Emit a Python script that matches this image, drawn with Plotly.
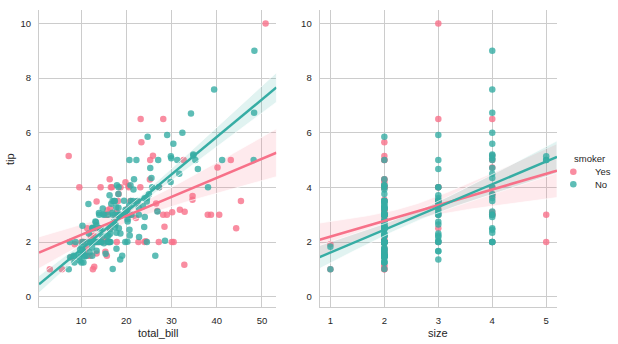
import numpy as np
import plotly.graph_objects as go

# Restaurant tips: bill, tip, smoker flag and party size
total_bill = [16.99, 10.34, 21.01, 23.68, 24.59, 25.29, 8.77, 26.88, 15.04, 14.78, 10.27, 35.26, 15.42, 18.43, 14.83, 21.58, 10.33, 16.29, 16.97, 20.65,
              17.92, 20.29, 15.77, 39.42, 19.82, 17.81, 13.37, 12.69, 21.7, 19.65, 9.55, 18.35, 15.06, 20.69, 17.78, 24.06, 16.31, 16.93, 18.69, 31.27,
              16.04, 17.46, 13.94, 9.68, 30.4, 18.29, 22.23, 32.4, 28.55, 18.04, 12.54, 10.29, 34.81, 9.94, 25.56, 19.49, 38.01, 26.41, 11.24, 48.27,
              20.29, 13.81, 11.02, 18.29, 17.59, 20.08, 16.45, 3.07, 20.23, 15.01, 12.02, 17.07, 26.86, 25.28, 14.73, 10.51, 17.92, 27.2, 22.76, 17.29,
              19.44, 16.66, 10.07, 32.68, 15.98, 34.83, 13.03, 18.28, 24.71, 21.16, 28.97, 22.49, 5.75, 16.32, 22.75, 40.17, 27.28, 12.03, 21.01, 12.46,
              11.35, 15.38, 44.3, 22.42, 20.92, 15.36, 20.49, 25.21, 18.24, 14.31, 14.0, 7.25, 38.07, 23.95, 25.71, 17.31, 29.93, 10.65, 12.43, 24.08,
              11.69, 13.42, 14.26, 15.95, 12.48, 29.8, 8.52, 14.52, 11.38, 22.82, 19.08, 20.27, 11.17, 12.26, 18.26, 8.51, 10.33, 14.15, 16.0, 13.16,
              17.47, 34.3, 41.19, 27.05, 16.43, 8.35, 18.64, 11.87, 9.78, 7.51, 14.07, 13.13, 17.26, 24.55, 19.77, 29.85, 48.17, 25.0, 13.39, 16.49,
              21.5, 12.66, 16.21, 13.81, 17.51, 24.52, 20.76, 31.71, 10.59, 10.63, 50.81, 15.81, 7.25, 31.85, 16.82, 32.9, 17.89, 14.48, 9.6, 34.63,
              34.65, 23.33, 45.35, 23.17, 40.55, 20.69, 20.9, 30.46, 18.15, 23.1, 15.69, 19.81, 28.44, 15.48, 16.58, 7.56, 10.34, 43.11, 13.0, 13.51,
              18.71, 12.74, 13.0, 16.4, 20.53, 16.47, 26.59, 38.73, 24.27, 12.76, 30.06, 25.89, 48.33, 13.27, 28.17, 12.9, 28.15, 11.59, 7.74, 30.14,
              12.16, 13.42, 8.58, 15.98, 13.42, 16.27, 10.09, 20.45, 13.28, 22.12, 24.01, 15.69, 11.61, 10.77, 15.53, 10.07, 12.6, 32.83, 35.83, 29.03,
              27.18, 22.67, 17.82, 18.78]
tip = [1.01, 1.66, 3.5, 3.31, 3.61, 4.71, 2.0, 3.12, 1.96, 3.23, 1.71, 5.0, 1.57, 3.0, 3.02, 3.92, 1.67, 3.71, 3.5, 3.35,
       4.08, 2.75, 2.23, 7.58, 3.18, 2.34, 2.0, 2.0, 4.3, 3.0, 1.45, 2.5, 3.0, 2.45, 3.27, 3.6, 2.0, 3.07, 2.31, 5.0,
       2.24, 2.54, 3.06, 1.32, 5.6, 3.0, 5.0, 6.0, 2.05, 3.0, 2.5, 2.6, 5.2, 1.56, 4.34, 3.51, 3.0, 1.5, 1.76, 6.73,
       3.21, 2.0, 1.98, 3.76, 2.64, 3.15, 2.47, 1.0, 2.01, 2.09, 1.97, 3.0, 3.14, 5.0, 2.2, 1.25, 3.08, 4.0, 3.0, 2.71,
       3.0, 3.4, 1.83, 5.0, 2.03, 5.17, 2.0, 4.0, 5.85, 3.0, 3.0, 3.5, 1.0, 4.3, 3.25, 4.73, 4.0, 1.5, 3.0, 1.5,
       2.5, 3.0, 2.5, 3.48, 4.08, 1.64, 4.06, 4.29, 3.76, 4.0, 3.0, 1.0, 4.0, 2.55, 4.0, 3.5, 5.07, 1.5, 1.8, 2.92,
       2.31, 1.68, 2.5, 2.0, 2.52, 4.2, 1.48, 2.0, 2.0, 2.18, 1.5, 2.83, 1.5, 2.0, 3.25, 1.25, 2.0, 2.0, 2.0, 2.75,
       3.5, 6.7, 5.0, 5.0, 2.3, 1.5, 1.36, 1.63, 1.73, 2.0, 2.5, 2.0, 2.74, 2.0, 2.0, 5.14, 5.0, 3.75, 2.61, 2.0,
       3.5, 2.5, 2.0, 2.0, 3.0, 3.48, 2.24, 4.5, 1.61, 2.0, 10.0, 3.16, 5.15, 3.18, 4.0, 3.11, 2.0, 2.0, 4.0, 3.55,
       3.68, 5.65, 3.5, 6.5, 3.0, 5.0, 3.5, 2.0, 3.5, 4.0, 1.5, 4.19, 2.56, 2.02, 4.0, 1.44, 2.0, 5.0, 2.0, 2.0,
       4.0, 2.01, 2.0, 2.5, 4.0, 3.23, 3.41, 3.0, 2.03, 2.23, 2.0, 5.16, 9.0, 2.5, 6.5, 1.1, 3.0, 1.5, 1.44, 3.09,
       2.2, 3.48, 1.92, 3.0, 1.58, 2.5, 2.0, 3.0, 2.72, 2.88, 2.0, 3.0, 3.39, 1.47, 3.0, 1.25, 1.0, 1.17, 4.67, 5.92,
       2.0, 2.0, 1.75, 3.0]
smoker = ["No", "No", "No", "No", "No", "No", "No", "No", "No", "No", "No", "No", "No", "No", "No", "No", "No", "No", "No", "No",
          "No", "No", "No", "No", "No", "No", "No", "No", "No", "No", "No", "No", "No", "No", "No", "No", "No", "No", "No", "No",
          "No", "No", "No", "No", "No", "No", "No", "No", "No", "No", "No", "No", "No", "No", "No", "No", "Yes", "No", "Yes", "No",
          "Yes", "Yes", "Yes", "Yes", "No", "No", "No", "Yes", "No", "Yes", "No", "No", "Yes", "Yes", "No", "No", "Yes", "No", "No", "No",
          "Yes", "No", "No", "Yes", "No", "No", "No", "No", "No", "No", "Yes", "No", "Yes", "Yes", "No", "Yes", "Yes", "Yes", "Yes", "No",
          "Yes", "Yes", "Yes", "Yes", "No", "Yes", "Yes", "Yes", "No", "Yes", "No", "No", "No", "No", "No", "No", "No", "No", "No", "No",
          "No", "No", "No", "No", "No", "No", "No", "No", "No", "No", "No", "No", "No", "No", "No", "No", "No", "No", "Yes", "No",
          "No", "No", "No", "No", "No", "No", "No", "No", "No", "No", "No", "No", "No", "No", "No", "No", "No", "No", "No", "No",
          "No", "No", "No", "No", "Yes", "No", "No", "No", "Yes", "Yes", "Yes", "Yes", "Yes", "Yes", "Yes", "Yes", "Yes", "Yes", "Yes", "Yes",
          "Yes", "Yes", "Yes", "Yes", "Yes", "No", "Yes", "Yes", "Yes", "Yes", "Yes", "Yes", "Yes", "Yes", "Yes", "No", "Yes", "Yes", "Yes", "Yes",
          "Yes", "Yes", "Yes", "Yes", "Yes", "Yes", "Yes", "Yes", "Yes", "Yes", "Yes", "Yes", "No", "Yes", "Yes", "Yes", "Yes", "Yes", "Yes", "Yes",
          "Yes", "Yes", "Yes", "No", "Yes", "Yes", "Yes", "No", "No", "Yes", "Yes", "Yes", "No", "No", "Yes", "No", "Yes", "Yes", "No", "No",
          "Yes", "Yes", "No", "No"]
# Party size (None where the party is not shown on the size panel)
size = [2, 3, 3, 2, 4, 4, 2, 4, 2, 2, 2, 4, 2, 4, 2, 2, 3, 3, 3, 3,
        2, 2, 2, 4, 2, 4, 2, 2, 2, 2, 2, 4, 2, 4, 2, 3, 3, 3, 3, 3,
        3, 2, 2, 2, 4, 2, 2, 4, 3, 2, 2, 2, 4, 2, 4, 2, 4, 2, 2, 4,
        2, 2, 2, 4, 3, 3, 2, 1, 2, 2, 2, 3, 2, 2, 2, 2, 2, 4, 2, 2,
        2, 2, 1, 2, 2, 4, 2, 2, 2, 2, 2, 2, 2, 2, 2, 4, 2, 2, 2, 2,
        2, 2, 3, 2, 2, 2, 2, 2, 2, 2, 2, 1, 3, 2, 3, 2, 4, 2, 2, 4,
        2, 2, 2, 2, 2, None, 2, 2, 2, 3, 2, 2, 2, 2, 2, 2, 2, 2, 2, 2,
        2, None, 5, None, 2, 2, 3, 2, 2, 2, 2, 2, 3, 4, 4, 5, None, 4, 2, 4,
        4, 2, 3, 2, 2, 3, 2, 4, 2, 2, 3, 2, 2, 2, 2, 2, 2, 2, 2, 2,
        4, 2, 3, 4, 2, 5, 3, 5, 3, 3, 2, 2, 2, 2, 2, 2, 2, 4, 2, 2,
        3, 2, 2, 2, 4, 3, 3, 4, 2, 2, 3, 4, 4, 2, 3, 2, 5, 2, 2, 4,
        2, 2, 1, 3, 2, 2, 2, 4, 2, 2, 4, 3, 2, 2, 2, 2, 2, 2, 3, 3,
        2, 2, 2, 2]

levels = ["Yes", "No"]
colors = {"Yes": (247, 113, 137), "No": (54, 173, 164)}

x_ranges = {"total_bill": [0.68, 53.2], "size": [0.8, 5.2]}
y_range = [-0.377, 10.49]

def rgba(c, a):
    return f"rgba({c[0]},{c[1]},{c[2]},{a})"

def fit_with_ci(x, y, grid):
    x = np.asarray(x, float)
    y = np.asarray(y, float)
    n = len(x)
    b, a = np.polyfit(x, y, 1)
    yhat = a + b * grid
    resid = y - (a + b * x)
    s = np.sqrt(np.sum(resid ** 2) / (n - 2))
    sxx = np.sum((x - x.mean()) ** 2)
    se = s * np.sqrt(1.0 / n + (grid - x.mean()) ** 2 / sxx)
    t = 1.98
    return yhat, yhat - t * se, yhat + t * se

data_x = {"total_bill": np.array(total_bill, float),
          "size": np.array([np.nan if s is None else s for s in size], float)}
tip_arr = np.array(tip)
smk = np.array(smoker)

fig = go.Figure()
line_traces = []
for xname, xa, ya in [("total_bill", "x", "y"), ("size", "x2", "y2")]:
    xv = data_x[xname]
    grid = np.linspace(x_ranges[xname][0], x_ranges[xname][1], 100)
    for lvl in levels:
        m = (smk == lvl) & ~np.isnan(xv)
        c = colors[lvl]
        fig.add_trace(go.Scatter(
            x=xv[m], y=tip_arr[m], mode="markers", xaxis=xa, yaxis=ya,
            marker=dict(size=6.5, color=rgba(c, 0.8), line=dict(width=0)),
            showlegend=False, hoverinfo="skip"))
        yhat, lo, hi = fit_with_ci(xv[m], tip_arr[m], grid)
        fig.add_trace(go.Scatter(
            x=np.concatenate([grid, grid[::-1]]), y=np.concatenate([hi, lo[::-1]]),
            mode="lines", fill="toself", fillcolor=rgba(c, 0.15),
            line=dict(color="rgba(255,255,255,0.7)", width=1),
            xaxis=xa, yaxis=ya, showlegend=False, hoverinfo="skip"))
        line_traces.append(go.Scatter(
            x=grid, y=yhat, mode="lines", xaxis=xa, yaxis=ya,
            line=dict(color=rgba(c, 1), width=2.5),
            showlegend=False, hoverinfo="skip"))
for tr in line_traces:
    fig.add_trace(tr)

FONT = "Liberation Sans, Arial, sans-serif"
TXT = "#262626"
GRID = "#cccccc"

axis_common = dict(
    showgrid=True, gridcolor=GRID, gridwidth=1, zeroline=False,
    showline=True, linecolor=GRID, linewidth=1, mirror=False,
    ticks="outside", ticklen=5, tickcolor="rgba(0,0,0,0)",
    tickfont=dict(family=FONT, size=9.5, color=TXT))

fig.update_layout(
    width=618, height=344,
    margin=dict(l=39, r=61, t=10, b=37),
    paper_bgcolor="white", plot_bgcolor="white",
    xaxis=dict(domain=[0, 0.4583], range=x_ranges["total_bill"],
               tickvals=[10, 20, 30, 40, 50], **axis_common),
    xaxis2=dict(domain=[0.5417, 1], range=x_ranges["size"],
                tickvals=[1, 2, 3, 4, 5], **axis_common),
    yaxis=dict(range=y_range, tickvals=[0, 2, 4, 6, 8, 10], **axis_common),
    yaxis2=dict(range=y_range, tickvals=[0, 2, 4, 6, 8, 10], anchor="x2",
                matches="y", **axis_common),
    showlegend=False,
)

# Axis titles
title_font = dict(family=FONT, size=11, color=TXT)
fig.add_annotation(text="total_bill", x=0.2297, y=-0.0886, xref="paper", yref="paper",
                   xanchor="center", yanchor="middle", showarrow=False, font=title_font)
fig.add_annotation(text="size", x=0.7703, y=-0.0886, xref="paper", yref="paper",
                   xanchor="center", yanchor="middle", showarrow=False, font=title_font)
fig.add_annotation(text="tip", x=-0.056, y=0.498, xref="paper", yref="paper",
                   xanchor="center", yanchor="middle", showarrow=False, textangle=-90,
                   font=title_font)

# Legend: title, swatches and labels
fig.add_annotation(text="smoker", x=1.0284, y=0.5007, xref="paper", yref="paper",
                   xanchor="left", yanchor="middle", showarrow=False,
                   font=dict(family=FONT, size=9.5, color=TXT))
for lvl, ly in zip(levels, [0.4556, 0.4131]):
    fig.add_shape(type="circle", xref="paper", yref="paper",
                  xsizemode="pixel", ysizemode="pixel",
                  xanchor=1.0315, yanchor=ly, x0=-3.3, x1=3.3, y0=-3.3, y1=3.3,
                  fillcolor=rgba(colors[lvl], 0.8), line=dict(width=0))
    fig.add_annotation(text=lvl, x=1.0701, y=ly, xref="paper", yref="paper",
                       xanchor="left", yanchor="middle", showarrow=False,
                       font=dict(family=FONT, size=9.5, color=TXT))

fig.write_html("out.html")
